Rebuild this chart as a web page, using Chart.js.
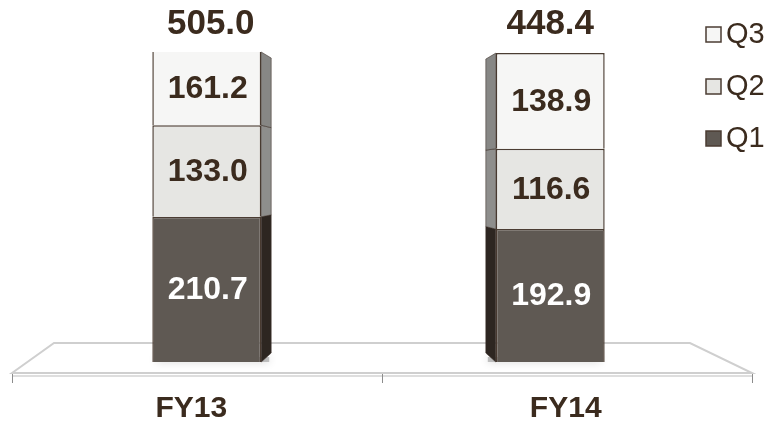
<!DOCTYPE html>
<html>
<head>
<meta charset="utf-8">
<script src="https://cdn.jsdelivr.net/npm/chart.js"></script>
<style>
  html,body{margin:0;padding:0;background:#fff;}
  #wrap{width:774px;height:425px;position:relative;}
</style>
</head>
<body>
<div id="wrap"><canvas id="chart"></canvas></div>
<script>
const categories = ['FY13', 'FY14'];
const seriesNames = ['Q1', 'Q2', 'Q3'];
const q1Values = [210.7, 192.9];
const q2Values = [133.0, 116.6];
const q3Values = [161.2, 138.9];
const totalValues = [505.0, 448.4];
const axisMax = 450; // value axis is capped, FY13 top gets cut like in the original

const TEXT = '#3b2b1e';
const EDGE = '#4b3d33';
const FONT = "'Liberation Sans', Arial, sans-serif";
const faceColors = ['#5f5953', '#e6e6e3', '#f6f6f5'];
const sideColors = ['#2d2621', '#8e8e8c', '#878785'];
const labelColors = ['#ffffff', TEXT, TEXT];

const decor = {
  id: 'decor',
  beforeDatasetsDraw(chart){
    const ctx = chart.ctx, a = chart.chartArea;
    const front = a.bottom + 11, back = a.bottom - 19;
    const L = 12, R = chart.width - 22;
    ctx.save();
    // floor
    ctx.beginPath();
    ctx.moveTo(L, front); ctx.lineTo(L + 42, back); ctx.lineTo(R - 62, back); ctx.lineTo(R, front); ctx.closePath();
    ctx.fillStyle = '#ffffff'; ctx.fill();
    ctx.strokeStyle = '#cfcfcf'; ctx.lineWidth = 2; ctx.stroke();
    ctx.beginPath(); ctx.moveTo(L, front + 3); ctx.lineTo(R, front + 3);
    ctx.strokeStyle = '#dedede'; ctx.lineWidth = 2; ctx.stroke();
    // ticks
    ctx.strokeStyle = '#8c8c8c'; ctx.lineWidth = 1;
    [L, (L + R) / 2, R].forEach(x=>{ ctx.beginPath(); ctx.moveTo(x + 0.5, front + 1); ctx.lineTo(x + 0.5, front + 10); ctx.stroke(); });
    // soft shadows under bars
    const mid = (a.left + a.right) / 2;
    chart.getDatasetMeta(0).data.forEach(bar=>{
      ctx.save();
      ctx.shadowColor = 'rgba(0,0,0,0.45)'; ctx.shadowBlur = 9;
      ctx.fillStyle = 'rgba(110,110,110,0.4)';
      const shift = bar.x < mid ? 6 : -6;
      ctx.fillRect(bar.x - bar.width / 2 - 2 + shift, bar.base - 5, bar.width + 4, 5);
      ctx.restore();
    });
    ctx.restore();
  },
  afterDatasetsDraw(chart){
    const ctx = chart.ctx, a = chart.chartArea;
    const mid = (a.left + a.right) / 2;
    ctx.save();
    // side faces: narrow strip, back edge shorter (6px lower at top, 9px higher at base)
    chart.data.datasets.forEach((ds, i)=>{
      chart.getDatasetMeta(i).data.forEach((bar, j)=>{
        const top = Math.max(bar.y, a.top), bot = Math.min(bar.base, a.bottom);
        if(bot <= top) return;
        const right = bar.x < mid;
        const ex = right ? bar.x + bar.width / 2 : bar.x - bar.width / 2;
        const d = right ? 10 : -10;
        const h = a.bottom - a.top;
        const back = y => a.top + 6 + (y - a.top) * (h - 15) / h;
        ctx.beginPath();
        ctx.moveTo(ex, top);
        ctx.lineTo(ex + d, back(top));
        ctx.lineTo(ex + d, back(bot));
        ctx.lineTo(ex, bot);
        ctx.closePath();
        ctx.fillStyle = sideColors[i]; ctx.fill();
        ctx.strokeStyle = 'rgba(60,48,40,0.55)'; ctx.lineWidth = 1; ctx.stroke();
      });
    });
    // segment labels
    ctx.textAlign = 'center'; ctx.textBaseline = 'middle';
    ctx.font = 'bold 32px ' + FONT;
    chart.data.datasets.forEach((ds, i)=>{
      chart.getDatasetMeta(i).data.forEach((bar, j)=>{
        const top = Math.max(bar.y, a.top), bot = Math.min(bar.base, a.bottom);
        ctx.fillStyle = labelColors[i];
        ctx.fillText(ds.data[j].toFixed(1), bar.x + 1, (top + bot) / 2 + 1);
      });
    });
    // totals
    ctx.font = 'bold 35px ' + FONT; ctx.fillStyle = TEXT;
    categories.forEach((c, j)=>{
      const bar = chart.getDatasetMeta(0).data[j];
      ctx.fillText(totalValues[j].toFixed(1), bar.x + (bar.x < mid ? 4 : 0), a.top - 28);
    });
    // category labels (pushed outward by the floor perspective)
    ctx.font = 'bold 30px ' + FONT;
    categories.forEach((c, j)=>{
      const bar = chart.getDatasetMeta(0).data[j];
      ctx.fillText(c, mid + (bar.x - mid) * 1.09, a.bottom + 47);
    });
    // legend, reversed order
    ctx.font = '29px ' + FONT; ctx.textAlign = 'left';
    const order = chart.data.datasets.map((d, i)=>i).reverse();
    order.forEach((i, k)=>{
      const y = 34 + k * 52;
      ctx.fillStyle = faceColors[i];
      ctx.fillRect(706, y - 7, 15, 15);
      ctx.strokeStyle = EDGE; ctx.lineWidth = 1.5;
      ctx.strokeRect(706, y - 7, 15, 15);
      ctx.fillStyle = TEXT;
      ctx.fillText(chart.data.datasets[i].label, 726, y + 1);
    });
    ctx.restore();
  }
};

const seriesValues = [q1Values, q2Values, q3Values];
new Chart(document.getElementById('chart'), {
  type: 'bar',
  data: {
    labels: categories,
    datasets: seriesNames.map((name, i)=>({
      label: name,
      data: seriesValues[i],
      backgroundColor: faceColors[i],
      borderColor: EDGE,
      borderWidth: 1.5,
      categoryPercentage: 1,
      barPercentage: 0.317
    }))
  },
  options: {
    responsive: true,
    maintainAspectRatio: false,
    animation: false,
    layout: { padding: { top: 52, bottom: 63, left: 35, right: 52 } },
    plugins: { legend: { display: false }, tooltip: { enabled: false } },
    scales: {
      x: { stacked: true, display: false },
      y: { stacked: true, display: false, min: 0, max: axisMax }
    }
  },
  plugins: [decor]
});
</script>
</body>
</html>
